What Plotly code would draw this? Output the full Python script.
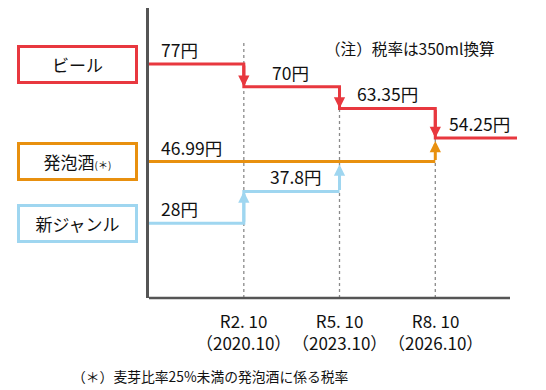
import plotly.graph_objects as go

# ---------------- data ----------------
step_dates = ["2020-10-01", "2023-10-01", "2026-10-01"]
tick_era = ["R2. 10", "R5. 10", "R8. 10"]
tick_year = ["（2020.10）", "（2023.10）", "（2026.10）"]
x_start, x_end = "2017-10-12", "2029-04-23"

beer_vals = [77, 70, 63.35, 54.25]          # before, after R2.10, R5.10, R8.10
happo_vals = [46.99, 54.25]                  # before, after R8.10
newgenre_vals = [28, 37.8, 46.99]            # before, after R2.10, after R5.10

series_names = ["ビール", "発泡酒<span style='font-size:10px'>(＊)</span>", "新ジャンル"]
note_text = "（注）税率は350ml換算"
footnote_text = "（＊）麦芽比率25%未満の発泡酒に係る税率"

# ---------------- style ----------------
RED = "#e8383f"
ORANGE = "#e8900f"
BLUE = "#9fd6f0"
AXIS = "#555555"
FONT = "Noto Sans CJK JP"
y_range = [5.0, 94.25]
PW, PH = 368, 290   # plot area size in px

fig = go.Figure()

beer_x = [x_start] + step_dates + [x_end]
beer_y = beer_vals + [beer_vals[-1]]
fig.add_trace(go.Scatter(x=beer_x, y=beer_y, mode="lines", line=dict(color=RED, width=3, shape="hv"),
                         hoverinfo="skip"))
fig.add_trace(go.Scatter(x=[x_start, step_dates[2]], y=[happo_vals[0], happo_vals[0]], mode="lines",
                         line=dict(color=ORANGE, width=3), hoverinfo="skip"))
fig.add_trace(go.Scatter(x=[x_start, step_dates[0], step_dates[1]],
                         y=[newgenre_vals[0], newgenre_vals[1], newgenre_vals[1]], mode="lines",
                         line=dict(color=BLUE, width=3, shape="hv"), hoverinfo="skip"))

# dashed vertical guide lines
guide_tops = [83.5, beer_vals[1], beer_vals[2]]
for d, top in zip(step_dates, guide_tops):
    fig.add_shape(type="line", xref="x", yref="y", x0=d, x1=d, y0=y_range[0], y1=top,
                  line=dict(color="#8a8a8a", width=1.3, dash="3px,3px"), layer="below")

def arrow(x, y_from, y_to, color, standoff=0):
    fig.add_annotation(x=x, y=y_to, ax=x, ay=y_from, xref="x", yref="y", axref="x", ayref="y",
                       showarrow=True, arrowhead=2, arrowsize=0.75, arrowwidth=3,
                       arrowcolor=color, standoff=standoff, text="")

arrow(step_dates[0], beer_vals[0], beer_vals[1], RED)
arrow(step_dates[1], beer_vals[1], beer_vals[2], RED)
arrow(step_dates[2], beer_vals[2], beer_vals[3], RED)
arrow(step_dates[2], happo_vals[0], happo_vals[1], ORANGE, standoff=3)
arrow(step_dates[0], newgenre_vals[0], newgenre_vals[1], BLUE)
arrow(step_dates[1], newgenre_vals[1], newgenre_vals[2], BLUE, standoff=3)

# value labels
label_pts = [
    (x_start, beer_vals[0], 10), (step_dates[0], beer_vals[1], 26), (step_dates[1], beer_vals[2], 15),
    (step_dates[2], beer_vals[3], 12), (x_start, happo_vals[0], 10),
    (step_dates[0], newgenre_vals[1], 24), (x_start, newgenre_vals[0], 10),
]
for x, v, dx in label_pts:
    fig.add_annotation(x=x, y=v, xref="x", yref="y", text=f"{v:g}円", showarrow=False,
                       xanchor="left", yanchor="bottom", xshift=dx, yshift=0,
                       font=dict(family=FONT, size=17.5, color="#111111"))

# x-axis labels (two lines in one text)
for d, era, yr in zip(step_dates, tick_era, tick_year):
    fig.add_annotation(x=d, y=-(331 - 298) / PH, xref="x", yref="paper", text=f"{era}<br>{yr}",
                       showarrow=False, xanchor="center", yanchor="middle", align="center",
                       font=dict(family=FONT, size=17, color="#111111"))

# series label boxes
for name, v, c in zip(series_names, [beer_vals[0], happo_vals[0], newgenre_vals[0]], [RED, ORANGE, BLUE]):
    fig.add_annotation(x=-11 / PW, y=v, xref="paper", yref="y", text=name, showarrow=False,
                       xanchor="right", yanchor="middle", width=115, height=33,
                       bordercolor=c, borderwidth=3, borderpad=0, bgcolor="white",
                       font=dict(family=FONT, size=17, color="#111111"))

fig.add_annotation(x=(323 - 149) / PW, y=1 - (48 - 8) / PH, xref="paper", yref="paper",
                   text=note_text, showarrow=False, xanchor="left", yanchor="middle",
                   font=dict(family=FONT, size=15.6, color="#111111"))

fig.add_annotation(x=(70 - 149) / PW, y=-(376 - 298) / PH, xref="paper", yref="paper",
                   text=footnote_text, showarrow=False, xanchor="left", yanchor="middle",
                   font=dict(family=FONT, size=13.8, color="#111111"))

# x axis line (ends a little before the beer line)
fig.add_shape(type="line", xref="paper", yref="paper", x0=0, x1=(510 - 149) / PW, y0=0, y1=0,
              line=dict(color=AXIS, width=2.5))

fig.update_layout(
    width=538, height=382, margin=dict(l=141, r=29, t=0, b=92),
    paper_bgcolor="white", plot_bgcolor="white", showlegend=False,
    font=dict(family=FONT, color="#111111"),
    xaxis=dict(type="date", range=[x_start, x_end], showgrid=False, zeroline=False, showline=False,
               showticklabels=False, ticks=""),
    yaxis=dict(range=y_range, showgrid=False, zeroline=False, showticklabels=False, ticks="",
               showline=True, linecolor=AXIS, linewidth=2.5),
)

fig.write_html("out.html")
